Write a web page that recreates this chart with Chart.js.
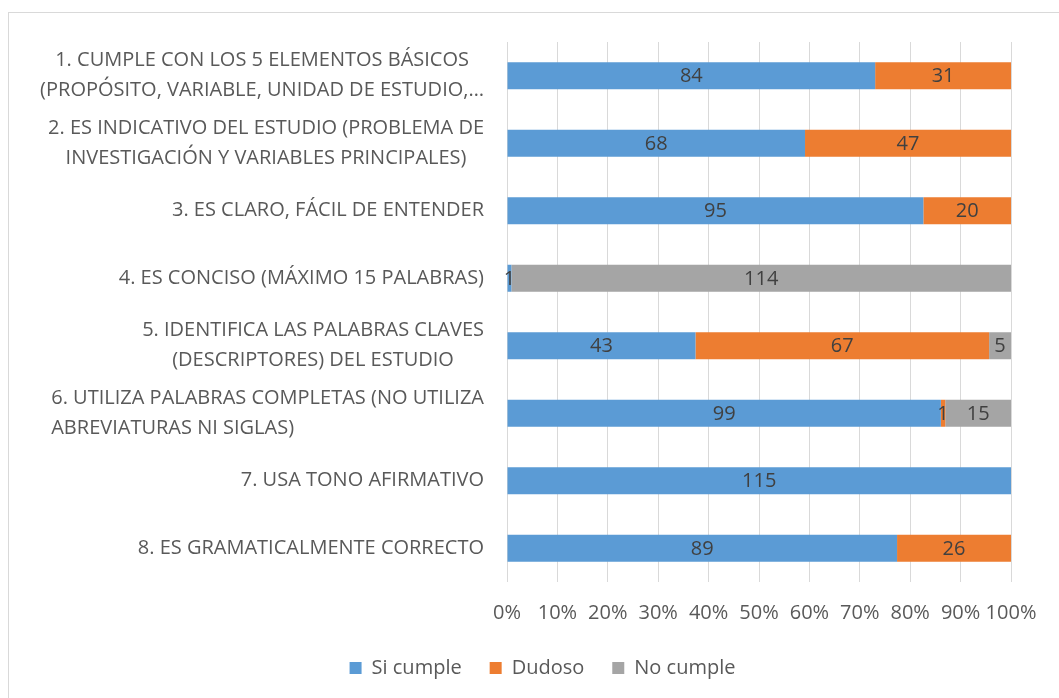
<!DOCTYPE html>
<html>
<head>
<meta charset="utf-8">
<script src="https://cdn.jsdelivr.net/npm/chart.js@4/dist/chart.umd.min.js"></script>
<style>
  html, body { margin: 0; padding: 0; background: #fff; }
  #wrap { position: relative; width: 1059px; height: 698px; overflow: hidden; }
  #frame { position: absolute; left: 8px; top: 12px; width: 1200px; height: 900px; border: 1px solid #d9d9d9; }
  canvas { position: absolute; left: 0; top: 0; }
</style>
</head>
<body>
<div id="wrap">
  <div id="frame"></div>
  <canvas id="myChart" width="1059" height="698"></canvas>
</div>
<script>
// categories (wrapped as in the original chart)
const categories = [
  ["1. CUMPLE CON LOS 5 ELEMENTOS BÁSICOS", "(PROPÓSITO, VARIABLE, UNIDAD DE ESTUDIO,…"],
  ["2. ES INDICATIVO DEL ESTUDIO (PROBLEMA DE", "INVESTIGACIÓN Y VARIABLES PRINCIPALES)"],
  ["3. ES CLARO, FÁCIL DE ENTENDER"],
  ["4. ES CONCISO (MÁXIMO 15 PALABRAS)"],
  ["5. IDENTIFICA LAS PALABRAS CLAVES", "(DESCRIPTORES) DEL ESTUDIO"],
  ["6. UTILIZA PALABRAS COMPLETAS (NO UTILIZA", "ABREVIATURAS NI SIGLAS)"],
  ["7. USA TONO AFIRMATIVO"],
  ["8. ES GRAMATICALMENTE CORRECTO"]
];
const siCumple = [84, 68, 95, 1, 43, 99, 115, 89];
const dudoso = [31, 47, 20, 0, 67, 1, 0, 26];
const noCumple = [0, 0, 0, 114, 5, 15, 0, 0];
const seriesNames = ["Si cumple", "Dudoso", "No cumple"];
const tickStep = 10; // percent

const FONT = "'Open Sans', sans-serif";
const counts = [siCumple, dudoso, noCumple];
const colors = ["#5b9bd5", "#ed7d31", "#a5a5a5"];
const totals = categories.map((c, i) => siCumple[i] + dudoso[i] + noCumple[i]);
const toPct = arr => arr.map((v, i) => v * 100 / totals[i]);

// numbers inside the bars
const barLabels = {
  id: 'barLabels',
  afterDatasetsDraw(chart) {
    const ctx = chart.ctx;
    ctx.save();
    ctx.font = "20px " + FONT;
    ctx.fillStyle = "#404040";
    ctx.textAlign = "center";
    ctx.textBaseline = "middle";
    chart.data.datasets.forEach((ds, d) => {
      chart.getDatasetMeta(d).data.forEach((bar, i) => {
        const raw = counts[d][i];
        if (!raw) return;
        ctx.fillText(String(raw), (bar.x + bar.base) / 2, bar.y + 1);
      });
    });
    ctx.restore();
  }
};

// category labels: block right-aligned, lines centered inside the block
const catLabels = {
  id: 'catLabels',
  afterDraw(chart) {
    const ctx = chart.ctx;
    const y = chart.scales.y;
    const right = 484, lh = 30;
    ctx.save();
    ctx.font = "20px " + FONT;
    ctx.fillStyle = "#595959";
    ctx.textBaseline = "middle";
    categories.forEach((lines, i) => {
      const cy = y.getPixelForValue(i);
      const widths = lines.map(l => ctx.measureText(l).width);
      const w = Math.max(...widths);
      const left = right - w;
      lines.forEach((l, j) => {
        const ly = cy + (j - (lines.length - 1) / 2) * lh;
        let x;
        if (i === 5 && j > 0) { ctx.textAlign = "left"; x = left; }
        else { ctx.textAlign = "center"; x = left + w / 2; }
        ctx.fillText(l, x, ly);
      });
    });
    ctx.restore();
  }
};

new Chart(document.getElementById("myChart"), {
  type: "bar",
  data: {
    labels: categories.map(c => c.join(" ")),
    datasets: counts.map((arr, d) => ({
      label: seriesNames[d],
      data: toPct(arr),
      backgroundColor: colors[d],
      borderWidth: 0,
      categoryPercentage: 1,
      barPercentage: 0.4
    }))
  },
  options: {
    indexAxis: "y",
    responsive: false,
    animation: false,
    events: [],
    layout: { padding: { top: 42, right: 48, left: 74, bottom: 10 } },
    scales: {
      x: {
        stacked: true,
        min: 0,
        max: 100,
        border: { display: false },
        grid: { color: "#d9d9d9", lineWidth: 1, drawTicks: false },
        ticks: {
          stepSize: tickStep,
          padding: 19,
          maxRotation: 0,
          minRotation: 0,
          autoSkip: false,
          color: "#595959",
          font: { family: FONT, size: 20 },
          callback: v => v + "%"
        },
        afterFit: s => { s.height = 48; }
      },
      y: {
        stacked: true,
        border: { display: false },
        grid: { display: false },
        ticks: { display: false },
        afterFit: s => { s.width = 433; }
      }
    },
    plugins: {
      tooltip: { enabled: false },
      legend: {
        position: "bottom",
        labels: {
          boxWidth: 12,
          boxHeight: 12,
          padding: 28,
          color: "#595959",
          font: { family: FONT, size: 20 }
        }
      }
    }
  },
  plugins: [barLabels, catLabels]
});
</script>
</body>
</html>
